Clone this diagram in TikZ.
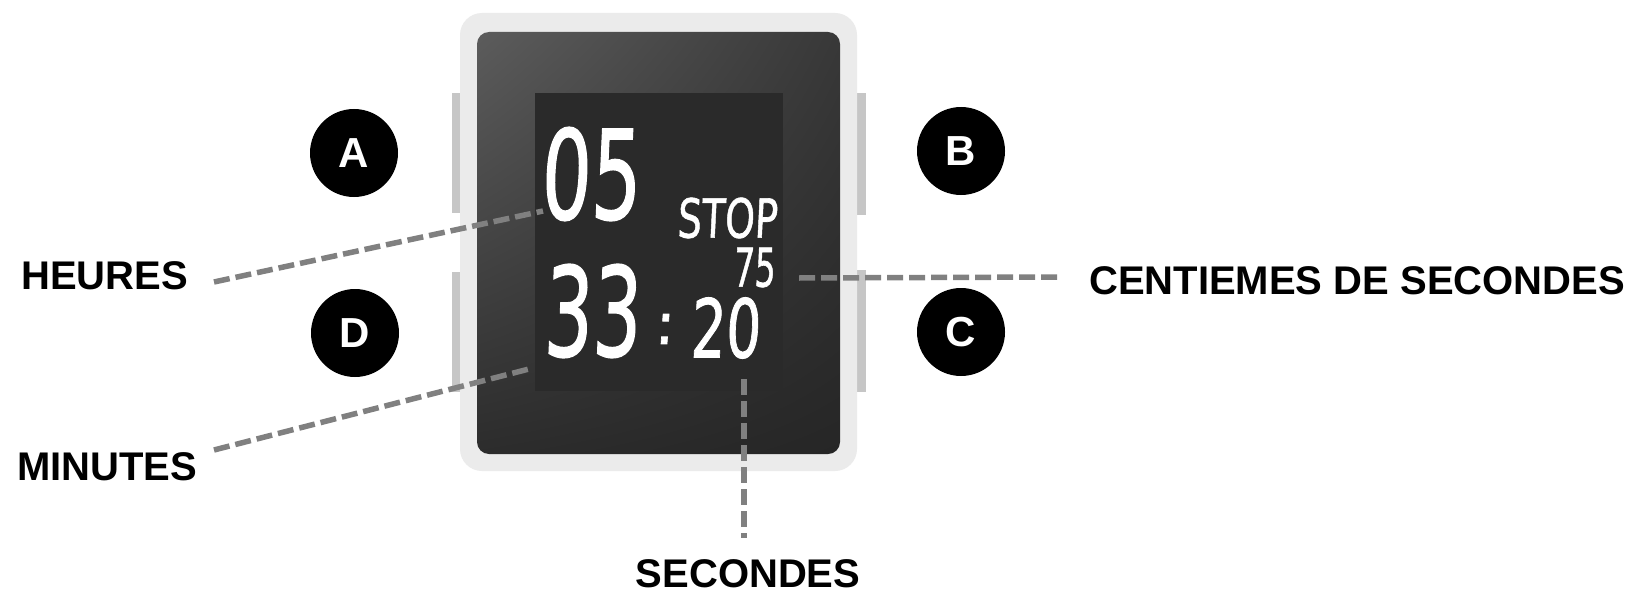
\documentclass[tikz,border=0pt]{standalone}
\usepackage{fontspec}
\usepackage{graphicx}
\usetikzlibrary{shadings}
\setmainfont{Liberation Sans}
\newfontfamily\lcdfont[FakeSlant=0.07,FakeBold=1.2]{DejaVu Sans}
\definecolor{leadgray}{HTML}{808080}
\definecolor{btngray}{HTML}{C6C6C6}
\definecolor{casegray}{HTML}{EBEBEB}
\definecolor{dispgray}{HTML}{2A2A2A}
\definecolor{faceUL}{HTML}{5C5C5C}
\definecolor{faceUR}{HTML}{383838}
\definecolor{faceLL}{HTML}{2C2C2C}
\definecolor{faceLR}{HTML}{262626}
\begin{document}
\begin{tikzpicture}[x=1pt,y=-1pt,
  lbl/.style={font=\fontsize{40}{40}\selectfont\bfseries, inner sep=0pt, text=black},
  badge/.style={circle, fill=black, minimum size=88pt, inner sep=0pt, text=white,
    font=\fontsize{42}{42}\selectfont\bfseries},
  leader/.style={draw=leadgray, line width=5.5pt, dash pattern=on 16pt off 6pt},
  lcd/.style={inner sep=0pt, text=white},
  btn/.style={fill=btngray, draw=none},
]
\useasboundingbox[fill=white] (0,0) rectangle (1637,599);

% side buttons
\path[btn] (452,93) rectangle (462,213);
\path[btn] (452,272) rectangle (462,392);
\path[btn] (855,93) rectangle (866,215);
\path[btn] (855,270) rectangle (866,392);

% case
\fill[casegray, rounded corners=22pt] (460,13) rectangle (857,471);
% face
\shade[rounded corners=12pt, upper left=faceUL, upper right=faceUR,
  lower left=faceLL, lower right=faceLR] (477,32) rectangle (840,454);
% display area
\fill[dispgray] (535,93) rectangle (783,391);

% display texts
\node[lcd] (hh) at (590,174) {\resizebox{100pt}{92pt}{\lcdfont 05}};
\node[lcd] (stop) at (727,218) {\resizebox{100pt}{40pt}{\lcdfont STOP}};
\node[lcd] (cc) at (754,267.5) {\resizebox{42pt}{39pt}{\lcdfont 75}};
\node[lcd] (mm) at (591.5,311) {\resizebox{97pt}{92pt}{\lcdfont 33}};
\node[lcd, font=\fontsize{58}{58}\lcdfont] (colon) at (664,329) {:};
\node[lcd] (ss) at (725,328) {\resizebox{70pt}{60pt}{\lcdfont 20}};

% badges
\node[badge] (A) at (354,153) {A};
\node[badge] (B) at (961,151) {B};
\node[badge] (D) at (355,333) {D};
\node[badge] (C) at (961,332) {C};

% labels
\node[lbl, anchor=west] (heures) at (21,276) {HEURES};
\node[lbl, anchor=west] (minutes) at (17,467) {MINUTES};
\node[lbl] (secondes) at (748,574) {SECONDES};
\node[lbl, anchor=west] (centiemes) at (1089,281) {CENTIEMES DE SECONDES};

% leader ends
\coordinate (h1) at (214,282);
\coordinate (h2) at (543,211);
\coordinate (m1) at (214,450);
\coordinate (m2) at (529,369);
\coordinate (s1) at (744,379);
\coordinate (s2) at (744,538);
\coordinate (c1) at (799,278);
\coordinate (c2) at (1059,277);

\draw[leader] (h1) -- (h2);
\draw[leader] (m1) -- (m2);
\draw[leader] (s1) -- (s2);
\draw[leader] (c1) -- (c2);
\end{tikzpicture}
\end{document}
